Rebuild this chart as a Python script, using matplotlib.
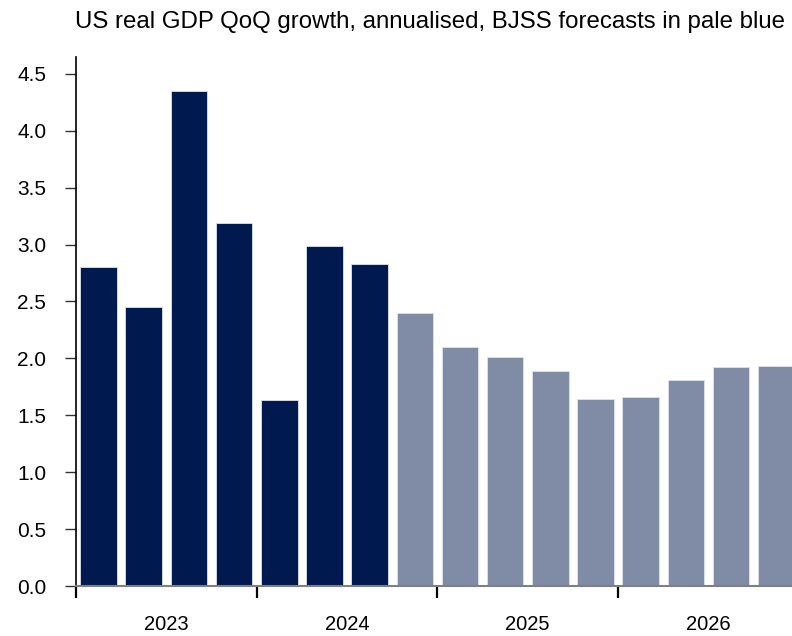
import matplotlib
matplotlib.use("Agg")
import matplotlib.pyplot as plt
import numpy as np

plt.rcParams['font.family'] = ['Liberation Sans', 'DejaVu Sans']

# Quarterly US real GDP growth, annualised (%)
quarters = ["2023Q1", "2023Q2", "2023Q3", "2023Q4",
            "2024Q1", "2024Q2", "2024Q3", "2024Q4",
            "2025Q1", "2025Q2", "2025Q3", "2025Q4",
            "2026Q1", "2026Q2", "2026Q3", "2026Q4"]
growth = [2.80, 2.45, 4.35, 3.19,
          1.63, 2.99, 2.83, 2.40,
          2.10, 2.01, 1.89, 1.64,
          1.66, 1.81, 1.92, 1.93]
n_actual = 7  # first seven quarters are outturns, the rest forecasts
years = ["2023", "2024", "2025", "2026"]
yticks = [0.0, 0.5, 1.0, 1.5, 2.0, 2.5, 3.0, 3.5, 4.0, 4.5]

navy = "#001a4f"
pale = "#808ba6"

W, H = 792, 636
fig = plt.figure(figsize=(W / 100, H / 100), dpi=100)
left, right, bottom, top = 76, 792, 586, 57
ax = fig.add_axes([left / W, 1 - bottom / H, (right - left) / W, (bottom - top) / H])

x = np.arange(len(growth))
colors = [navy if i < n_actual else pale for i in range(len(growth))]
ax.bar(x, growth, width=0.81, color=colors, edgecolor="#dde2ec", linewidth=0.6, zorder=2)

ax.set_xlim(-0.5, 15.35)
ax.set_ylim(0, 4.648)

ax.set_yticks(yticks)
ax.set_yticklabels([f"{v:.1f}" for v in yticks], fontsize=15)
ax.tick_params(axis="y", direction="out", length=8, width=1.0, color="#333333", pad=13.5)

# year boundaries as ticks, year names centred under each block
ax.set_xticks([-0.5, 3.5, 7.5, 11.5])
ax.set_xticklabels([])
ax.tick_params(axis="x", direction="out", length=8.5, width=1.6, color="black")
ax.set_xticks([1.5, 5.5, 9.5, 13.5], minor=True)
ax.set_xticklabels(years, minor=True, fontsize=14.5)
ax.tick_params(axis="x", which="minor", length=0, pad=21)

for s in ["top", "right"]:
    ax.spines[s].set_visible(False)
ax.spines["left"].set_color("black")
ax.spines["left"].set_linewidth(1.2)
ax.spines["bottom"].set_color("#808080")
ax.spines["bottom"].set_linewidth(1.5)
ax.spines["bottom"].set_zorder(3)

fig.text(785 / W, 1 - 28 / H,
         "US real GDP QoQ growth, annualised, BJSS forecasts in pale blue",
         ha="right", va="baseline", fontsize=17.3)

fig.savefig("out.png", dpi=100)
